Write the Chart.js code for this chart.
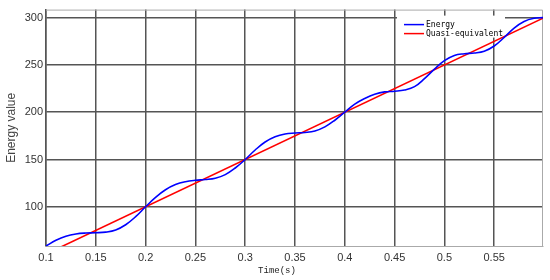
<!DOCTYPE html>
<html>
<head>
<meta charset="utf-8">
<script src="https://cdn.jsdelivr.net/npm/chart.js@4"></script>
<style>
  html, body { margin: 0; background: #fff; }
  canvas { display: block; }
</style>
</head>
<body>
<canvas id="energyChart" width="550" height="280"></canvas>
<script>
// values
const timeS = [0.10, 0.11, 0.12, 0.13, 0.14, 0.15, 0.16, 0.17, 0.18, 0.19,
               0.20, 0.21, 0.22, 0.23, 0.24, 0.25, 0.26, 0.27, 0.28, 0.29,
               0.30, 0.31, 0.32, 0.33, 0.34, 0.35, 0.36, 0.37, 0.38, 0.39,
               0.40, 0.41, 0.42, 0.43, 0.44, 0.45, 0.46, 0.47, 0.48, 0.49,
               0.50, 0.51, 0.52, 0.53, 0.54, 0.55, 0.56, 0.57, 0.58, 0.59, 0.599];
const energy = [58.5, 64.5, 68.8, 71.2, 72.2, 72.5, 73.2, 75.5, 81, 89.5,
                100, 110, 118, 123.5, 126.5, 128, 128.8, 130.2, 134, 141,
                150, 160, 168.5, 174, 177, 178, 178.6, 180.2, 184.5, 191.5,
                200, 208.5, 214.5, 219, 221.5, 222.2, 223.5, 227, 235.5, 245.5,
                254.5, 260, 261.8, 262.6, 264.5, 270, 279, 289, 296, 299.3, 300];
const quasiTime = [0.10, 0.599];
const quasiValue = [50, 299.5];

const xTicks = [0.1, 0.15, 0.2, 0.25, 0.3, 0.35, 0.4, 0.45, 0.5, 0.55];
const yTicks = [100, 150, 200, 250, 300];
const seriesNames = ["Energy", "Quasi-equivalent"];
const seriesColors = ["#0000ff", "#ff0000"];

const toPoints = (xs, ys) => xs.map((x, i) => ({ x: x, y: ys[i] }));

// top/right frame, white legend box drawn inside the plot, x title
const framePlugin = {
  id: "frame",
  beforeDatasetsDraw(chart) {
    const { ctx, chartArea: a } = chart;
    ctx.save();
    ctx.strokeStyle = "#aaaaaa";
    ctx.lineWidth = 1;
    ctx.beginPath();
    ctx.moveTo(a.left, a.top + 0.5);
    ctx.lineTo(a.right - 0.5, a.top + 0.5);
    ctx.lineTo(a.right - 0.5, a.bottom);
    ctx.stroke();

    // legend
    const lx = a.right - 146, ly = a.top + 6;
    ctx.fillStyle = "#ffffff";
    ctx.fillRect(lx, ly, 108, 22);
    ctx.font = "8px 'DejaVu Sans Mono'";
    ctx.textBaseline = "middle";
    chart.data.datasets.forEach((ds, i) => {
      const y = ly + 9 + i * 9;
      ctx.strokeStyle = ds.borderColor;
      ctx.lineWidth = 1.5;
      ctx.beginPath();
      ctx.moveTo(lx + 7, y);
      ctx.lineTo(lx + 27, y);
      ctx.stroke();
      ctx.fillStyle = "#000";
      ctx.fillText(ds.label, lx + 29, y);
    });

    ctx.font = "9px 'Liberation Mono'";
    ctx.fillStyle = "#222";
    ctx.textAlign = "center";
    ctx.fillText("Time(s)", 277, 271);
    ctx.restore();
  }
};

new Chart(document.getElementById("energyChart"), {
  type: "line",
  data: {
    datasets: [{
      label: seriesNames[0],
      data: toPoints(timeS, energy),
      borderColor: seriesColors[0],
      borderWidth: 1.6,
      pointRadius: 0,
      tension: 0.4,
      fill: false
    }, {
      label: seriesNames[1],
      data: toPoints(quasiTime, quasiValue),
      borderColor: seriesColors[1],
      borderWidth: 1.6,
      pointRadius: 0,
      fill: false
    }]
  },
  options: {
    responsive: false,
    animation: false,
    devicePixelRatio: 1,
    layout: { padding: { top: 9, right: 7, left: 0, bottom: 0 } },
    plugins: { legend: { display: false }, tooltip: { enabled: false } },
    scales: {
      x: {
        type: "linear",
        min: 0.1,
        max: 0.599,
        afterBuildTicks: s => { s.ticks = xTicks.map(v => ({ value: v })); },
        afterFit: s => { s.height = 34; },
        grid: { color: "#555", lineWidth: 1.5, drawTicks: false },
        border: { color: "#aaa", width: 1 },
        ticks: {
          padding: 5,
          maxRotation: 0,
          autoSkip: false,
          color: "#333",
          font: { family: "'Liberation Sans'", size: 11 },
          callback: v => String(+v.toFixed(2))
        }
      },
      y: {
        min: 58.5,
        max: 308.5,
        afterBuildTicks: s => { s.ticks = yTicks.map(v => ({ value: v })); },
        afterFit: s => { s.width = 46; },
        grid: { color: "#555", lineWidth: 1.5, drawTicks: false },
        border: { color: "#555", width: 1.5 },
        title: {
          display: true,
          text: "Energy value",
          color: "#444",
          font: { family: "'Liberation Sans'", size: 12 },
          padding: { top: 4, bottom: 0 }
        },
        ticks: {
          padding: 3,
          color: "#333",
          font: { family: "'Liberation Sans'", size: 11 }
        }
      }
    }
  },
  plugins: [framePlugin]
});
</script>
</body>
</html>
